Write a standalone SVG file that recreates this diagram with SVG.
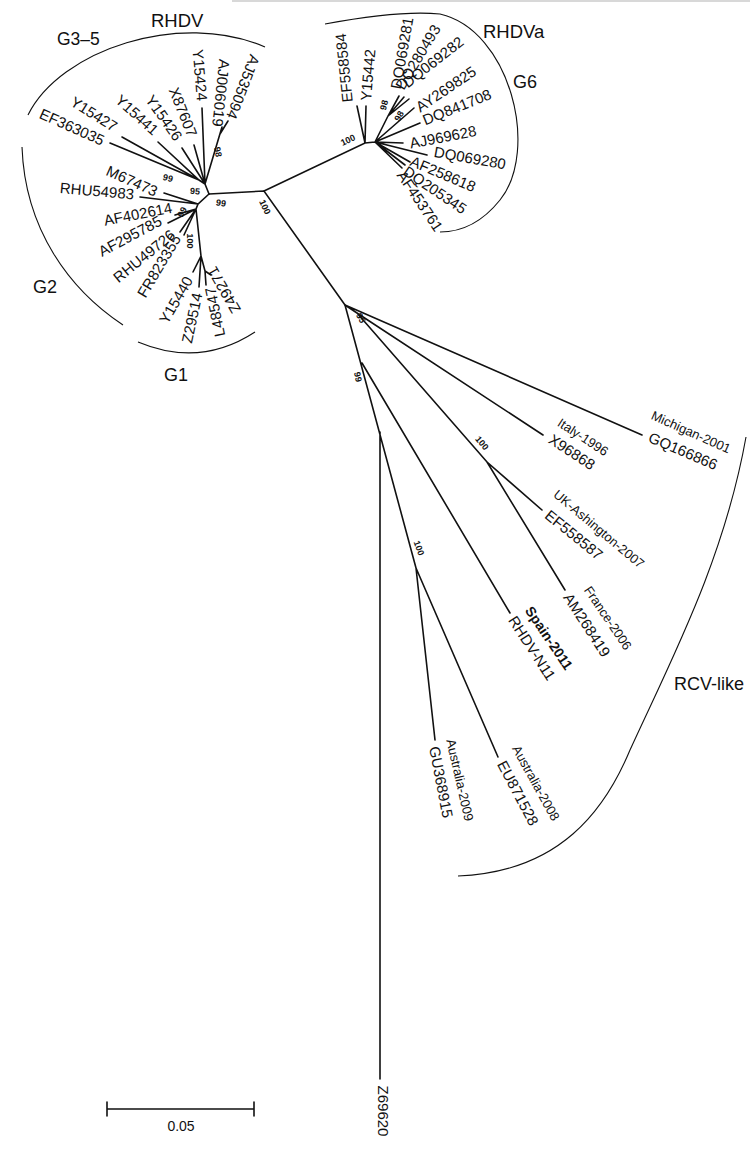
<svg xmlns="http://www.w3.org/2000/svg" width="750" height="1153" viewBox="0 0 750 1153">
<style>
.br{stroke:#111;stroke-width:1.6;fill:none;stroke-linecap:round}
.arc{stroke:#111;stroke-width:1.1;fill:none}
text{font-family:"Liberation Sans",Arial,sans-serif;fill:#111}
.tl{font-size:15px;text-anchor:middle}
.sm{font-size:13px;text-anchor:middle}
.bd{font-size:14px;font-weight:bold;text-anchor:middle}
.bs{font-size:9px;font-weight:bold;text-anchor:middle}
.gl{font-size:18px}
</style>
<rect width="750" height="1153" fill="#fff"/>
<rect x="232" y="0" width="518" height="2" fill="#d8d8d8"/>
<g id="connectors">
<!-- backbone -->
<path class="br" d="M209 194 L264 191 L345 305"/>
<!-- RHDV G3-5 -->
<path class="br" d="M209 194 L205 184 M205 184 L202 108 M205 184 L194 145 M205 184 L182 148 M205 184 L199 180 L158 142 M199 180 L122 137 M199 180 L110 143 M205 184 L222 127 M220 134 L228 121"/>
<!-- RHDV G1/G2 -->
<path class="br" d="M209 194 L198 204 L164 193 M198 204 L140 197 M198 204 L196 209 L175 215 M196 209 L168 223 M196 209 L180 232 M196 209 L184 235 M196 209 L201 256 L193 272 M201 256 L199 287 M201 256 L205 271 L206 285 M205 271 L211 275"/>
<!-- RHDVa -->
<path class="br" d="M264 191 L365 143 L375 142 M365 143 L357 106 M365 143 L366 106 M375 142 L388 116 L399 96 M388 116 L404 97 M388 116 L409 99 M375 142 L414 108 M375 142 L420 123 M375 142 L403 143 M375 142 L427 155 M375 142 L410 162 M375 142 L405 165 M375 142 L402 168"/>
<!-- RCV-like -->
<path class="br" d="M345 305 L642 435 M345 305 L357 313 L543 435 M357 313 L487 462 L542 510 M487 462 L565 590 M345 305 L416 568 M362 363 L510 613 M416 568 L435 740 M416 568 L498 757 M380 432 L380 1079"/>
</g>
<g id="clades">
<path class="arc" d="M28 115 C60 50 180 10 265 47"/>
<path class="arc" d="M22 147 C25 230 70 290 123 325"/>
<path class="arc" d="M138 342 Q200 368 255 332"/>
<path class="arc" d="M325 24 Q400 10 440 14 C510 30 540 150 500 200 C480 225 460 232 440 232"/>
<path class="arc" d="M746 437 C724 560 672 658 630 750 C605 810 560 872 458 876"/>
<text class="gl" x="151" y="27" style="font-size:18.5px">RHDV</text>
<text class="gl" x="57" y="45" style="font-size:17.5px">G3–5</text>
<text class="gl" x="483" y="38" style="font-size:18.5px">RHDVa</text>
<text class="gl" x="513" y="88">G6</text>
<text class="gl" x="33" y="293">G2</text>
<text class="gl" x="164" y="381">G1</text>
<text class="gl" x="674" y="690">RCV-like</text>
</g>
<g id="tips-rhdv">
<g id="AJ535094"><text class="tl" dy="0.35em" transform="translate(243,87) rotate(111)">AJ535094</text></g>
<g id="AJ006019"><text class="tl" dy="0.35em" transform="translate(221,93) rotate(96)">AJ006019</text></g>
<g id="Y15424"><text class="tl" dy="0.35em" transform="translate(200,75) rotate(85)">Y15424</text></g>
<g id="X87607"><text class="tl" dy="0.35em" transform="translate(183,112) rotate(68)">X87607</text></g>
<g id="Y15426"><text class="tl" dy="0.35em" transform="translate(164,118) rotate(55)">Y15426</text></g>
<g id="Y15441"><text class="tl" dy="0.35em" transform="translate(137,115) rotate(42)">Y15441</text></g>
<g id="Y15427"><text class="tl" dy="0.35em" transform="translate(94,114) rotate(32)">Y15427</text></g>
<g id="EF363035"><text class="tl" dy="0.35em" transform="translate(72,127) rotate(24)">EF363035</text></g>
<g id="M67473"><text class="tl" dy="0.35em" transform="translate(132,181) rotate(24)">M67473</text></g>
<g id="RHU54983"><text class="tl" dy="0.35em" transform="translate(97,191) rotate(5)">RHU54983</text></g>
<g id="AF402614"><text class="tl" dy="0.35em" transform="translate(138,214) rotate(-11)">AF402614</text></g>
<g id="AF295785"><text class="tl" dy="0.35em" transform="translate(130,236) rotate(-28)">AF295785</text></g>
<g id="RHU49726"><text class="tl" dy="0.35em" transform="translate(144,256) rotate(-39)">RHU49726</text></g>
<g id="FR823355"><text class="tl" dy="0.35em" transform="translate(159,266) rotate(-59)">FR823355</text></g>
<g id="Y15440"><text class="tl" dy="0.35em" transform="translate(176,300) rotate(-60)">Y15440</text></g>
<g id="Z29514"><text class="tl" dy="0.35em" transform="translate(192,318) rotate(-78)">Z29514</text></g>
<g id="L48547"><text class="tl" dy="0.35em" transform="translate(215,312) rotate(-102)">L48547</text></g>
<g id="Z49271"><text class="tl" dy="0.35em" transform="translate(224,290) rotate(-120)">Z49271</text></g>
</g>
<g id="tips-rhdva">
<g id="EF558584"><text class="tl" dy="0.35em" transform="translate(344,68) rotate(-96)">EF558584</text></g>
<g id="Y15442"><text class="tl" dy="0.35em" transform="translate(368,75) rotate(-85)">Y15442</text></g>
<g id="DQ069281"><text class="tl" dy="0.35em" transform="translate(402,53) rotate(-80)">DQ069281</text></g>
<g id="DQ280493"><text class="tl" dy="0.35em" transform="translate(418,57) rotate(-59)">DQ280493</text></g>
<g id="DQ069282"><text class="tl" dy="0.35em" transform="translate(433,62) rotate(-38)">DQ069282</text></g>
<g id="AY269825"><text class="tl" dy="0.35em" transform="translate(446,89) rotate(-34)">AY269825</text></g>
<g id="DQ841708"><text class="tl" dy="0.35em" transform="translate(457,107) rotate(-22)">DQ841708</text></g>
<g id="AJ969628"><text class="tl" dy="0.35em" transform="translate(443,137) rotate(-11)">AJ969628</text></g>
<g id="DQ069280"><text class="tl" dy="0.35em" transform="translate(470,158) rotate(10)">DQ069280</text></g>
<g id="AF258618"><text class="tl" dy="0.35em" transform="translate(443,174) rotate(23)">AF258618</text></g>
<g id="DQ205345"><text class="tl" dy="0.35em" transform="translate(435,190) rotate(34)">DQ205345</text></g>
<g id="AF453761"><text class="tl" dy="0.35em" transform="translate(420,201) rotate(56)">AF453761</text></g>
</g>
<g id="tips-rcv">
<g id="GQ166866"><text class="sm" dy="0.35em" transform="translate(691,432) rotate(24)">Michigan-2001</text><text class="tl" dy="0.35em" transform="translate(683,451) rotate(23)">GQ166866</text></g>
<g id="X96868"><text class="sm" dy="0.35em" transform="translate(583,437) rotate(33)">Italy-1996</text><text class="tl" dy="0.35em" transform="translate(572,452) rotate(33)">X96868</text></g>
<g id="EF558587"><text class="sm" dy="0.35em" transform="translate(599,529) rotate(40)">UK-Ashington-2007</text><text class="tl" dy="0.35em" transform="translate(574,535) rotate(39)">EF558587</text></g>
<g id="AM268419"><text class="sm" dy="0.35em" transform="translate(608,618) rotate(56)">France-2006</text><text class="tl" dy="0.35em" transform="translate(587,625) rotate(57)">AM268419</text></g>
<g id="RHDV-N11"><text class="bd" dy="0.35em" transform="translate(549,638) rotate(56)">Spain-2011</text><text class="tl" dy="0.35em" transform="translate(532,648) rotate(57)">RHDV-N11</text></g>
<g id="GU368915"><text class="sm" dy="0.35em" transform="translate(460,780) rotate(77)">Australia-2009</text><text class="tl" dy="0.35em" transform="translate(441,782) rotate(79)">GU368915</text></g>
<g id="EU871528"><text class="sm" dy="0.35em" transform="translate(536,783) rotate(61)">Australia-2008</text><text class="tl" dy="0.35em" transform="translate(518,793) rotate(62)">EU871528</text></g>
<g id="Z69620"><text class="tl" dy="0.35em" transform="translate(383,1111) rotate(90)">Z69620</text></g>
</g>
<g id="bootstrap">
<text class="bs" dy="0.35em" transform="translate(218,152) rotate(80)">98</text>
<text class="bs" dy="0.35em" transform="translate(168,178) rotate(15)">99</text>
<text class="bs" dy="0.35em" transform="translate(195,191) rotate(5)">95</text>
<text class="bs" dy="0.35em" transform="translate(221,203) rotate(10)">99</text>
<text class="bs" dy="0.35em" transform="translate(265,207) rotate(65)">100</text>
<text class="bs" dy="0.35em" transform="translate(182,212) rotate(-60)">99</text>
<text class="bs" dy="0.35em" transform="translate(190,241) rotate(90)">100</text>
<text class="bs" dy="0.35em" transform="translate(348,140) rotate(-25)">100</text>
<text class="bs" dy="0.35em" transform="translate(384,105) rotate(-75)">98</text>
<text class="bs" dy="0.35em" transform="translate(399,116) rotate(-60)">98</text>
<text class="bs" dy="0.35em" transform="translate(361,318) rotate(60)">95</text>
<text class="bs" dy="0.35em" transform="translate(358,377) rotate(80)">99</text>
<text class="bs" dy="0.35em" transform="translate(482,443) rotate(50)">100</text>
<text class="bs" dy="0.35em" transform="translate(419,548) rotate(70)">100</text>
</g>
<g id="scale">
<path class="br" d="M107 1109 L254 1109 M107 1102 L107 1116 M254 1102 L254 1116"/>
<text x="181" y="1131" style="font-size:14px;text-anchor:middle">0.05</text>
</g>
</svg>
